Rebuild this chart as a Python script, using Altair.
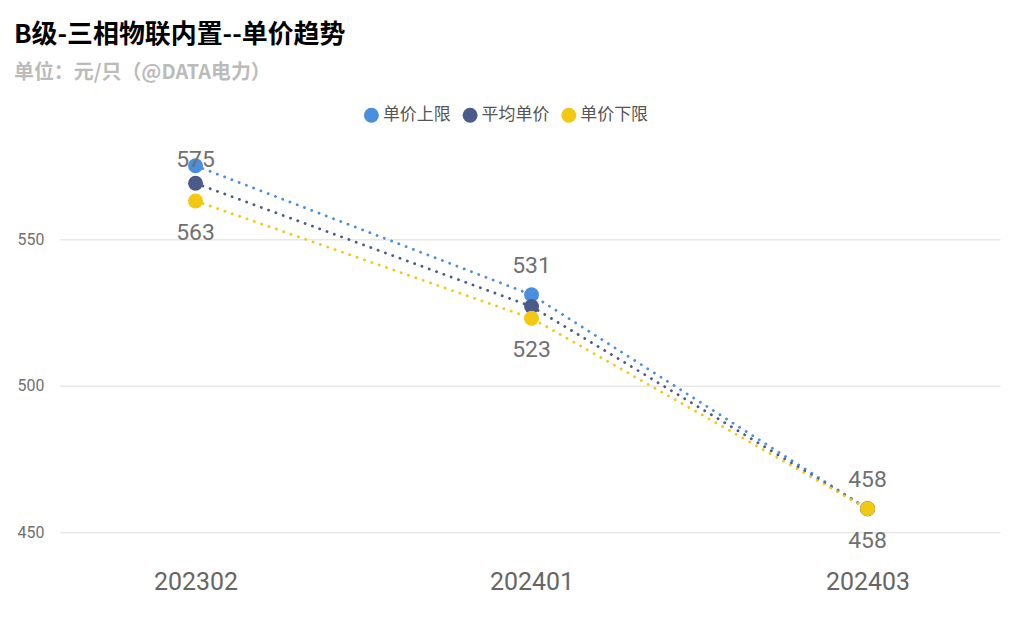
import altair as alt
import pandas as pd

periods = ["202302", "202401", "202403"]
series_names = ["单价上限", "平均单价", "单价下限"]
upper = [575, 531, 458]
avg = [569, 527, 458]
lower = [563, 523, 458]
colors = ["#4a8ede", "#4a5a8b", "#f2c811"]

rows = []
for name, vals in zip(series_names, [upper, avg, lower]):
    for p, v in zip(periods, vals):
        rows.append({"period": p, "series": name, "value": v})
df = pd.DataFrame(rows)

x_enc = alt.X(
    "period:O",
    sort=periods,
    title=None,
    scale=alt.Scale(type="point", padding=0.399, align=0.506),
    axis=alt.Axis(
        labelAngle=0, labelFontSize=25, labelColor="#666666", labelFont="Roboto",
        ticks=False, domain=False, labelPadding=15, grid=False,
    ),
)
y_enc = alt.Y(
    "value:Q",
    title=None,
    scale=alt.Scale(domain=[442.5, 587], nice=False, zero=False),
    axis=alt.Axis(
        values=[450, 500, 550], labelFontSize=16, labelColor="#707070", labelFont="Roboto",
        ticks=False, domain=False, labelPadding=16, grid=True,
        gridColor="#e8e8e8", gridWidth=1.5,
    ),
)
color_enc = alt.Color(
    "series:N",
    scale=alt.Scale(domain=series_names, range=colors),
    legend=alt.Legend(
        title=None, orient="none", legendX=304, legendY=-24, direction="horizontal",
        symbolType="circle", symbolSize=225, symbolStrokeWidth=0, symbolOpacity=1,
        labelFont="Noto Sans CJK SC", labelFontSize=17, labelColor="#555555",
        labelOffset=3, columnPadding=11,
    ),
)

base = alt.Chart(df)

lines = base.mark_line(strokeDash=[0.1, 7.7], strokeWidth=2.8, strokeCap="round").encode(
    x=x_enc, y=y_enc, color=color_enc, detail="series:N"
)
points = base.mark_circle(size=225, opacity=1).encode(
    x=x_enc, y=y_enc, color=alt.Color("series:N", scale=alt.Scale(domain=series_names, range=colors), legend=None)
)

label_style = dict(font="Roboto", fontSize=23, color="#707070", align="center", baseline="middle")

upper_first = base.transform_filter(
    (alt.datum.series == "单价上限") & (alt.datum.period == periods[0])
).mark_text(dy=-6, **label_style).encode(x=x_enc, y=y_enc, text="value:Q")
upper_rest = base.transform_filter(
    (alt.datum.series == "单价上限") & (alt.datum.period != periods[0])
).mark_text(dy=-29, **label_style).encode(x=x_enc, y=y_enc, text="value:Q")
lower_lbl = base.transform_filter(
    alt.datum.series == "单价下限"
).mark_text(dy=32, **label_style).encode(x=x_enc, y=y_enc, text="value:Q")

chart = alt.layer(lines, points, upper_first, upper_rest, lower_lbl).properties(
    width=943,
    height=425,
    autosize=alt.AutoSizeParams(type="none"),
    padding={"left": 52, "top": 122, "right": 10, "bottom": 60},
    background="#ffffff",
    title=alt.TitleParams(
        text="B级-三相物联内置--单价趋势",
        subtitle="单位：元/只（@DATA电力）",
        anchor="start",
        frame="group",
        dx=-46,
        font="Noto Sans CJK SC",
        fontSize=26,
        fontWeight="bold",
        color="#000000",
        subtitleFont="Noto Sans CJK SC",
        subtitleFontSize=20,
        subtitleFontWeight="bold",
        subtitleColor="#bbbbbb",
        subtitlePadding=15,
        offset=24,
    ),
).configure_view(stroke=None)

chart.save("out.html", embed_options={"renderer": "svg", "actions": False})
